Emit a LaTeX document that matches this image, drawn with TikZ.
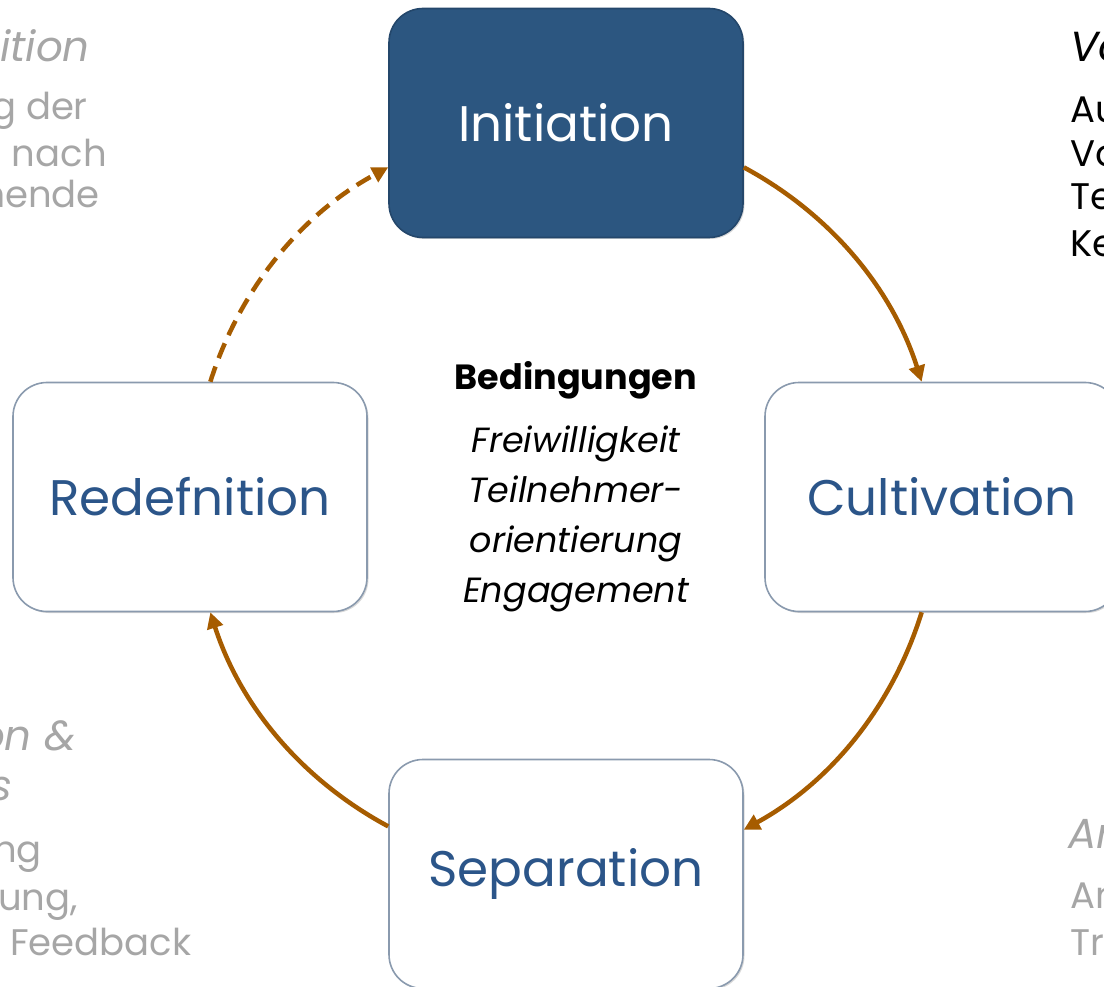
\documentclass[tikz,border=0pt]{standalone}
\usepackage{fontspec}
\setmainfont{Poppins}
\usetikzlibrary{arrows.meta,shadows}

\definecolor{phaseblue}{HTML}{2C5680}
\definecolor{phasedark}{HTML}{24476B}
\definecolor{phaseline}{HTML}{8A9AAE}
\definecolor{labelblue}{HTML}{2B5589}
\definecolor{arrowbrown}{HTML}{A65C00}
\definecolor{notegray}{HTML}{A6A6A6}

\begin{document}
\begin{tikzpicture}[x=1pt,y=-1pt,
	phase/.style={rectangle,rounded corners=34pt,minimum width=354pt,minimum height=229pt,inner sep=0pt,
		draw=phaseline,line width=1.6pt,fill=white,text=labelblue,font=\fontsize{50}{60}\selectfont,
		drop shadow={shadow xshift=1.5pt,shadow yshift=-1.5pt,opacity=0.3}},
	active/.style={fill=phaseblue,draw=phasedark,text=white},
	phasearrow/.style={draw=arrowbrown,line width=4.5pt,-{Triangle[length=16pt,width=16pt]},bend left=22,looseness=0.9},
	note/.style={inner sep=0pt,text=notegray,font=\fontsize{37}{45}\selectfont},
	notehead/.style={inner sep=0pt,text=notegray,font=\itshape\fontsize{42}{50}\selectfont}]
	\useasboundingbox (0,0) rectangle (1104,987);
	% phases
	\node[phase,active] (init) at (566,123) {Initiation};
	\node[phase] (cult) at (942,497) {Cultivation};
	\node[phase] (sep) at (566,874) {Separation};
	\node[phase] (redef) at (190,497) {Redefnition};
	% cycle
	\draw[phasearrow] (init.-14.5) to (cult.100);
	\draw[phasearrow] (cult.-100) to (sep.14.5);
	\draw[phasearrow] (sep.165.5) to (redef.-80);
	\draw[phasearrow,dash pattern=on 16pt off 9pt] (redef.80) to (init.194.5);
	% conditions
	\node[inner sep=0pt,anchor=base,font=\bfseries\fontsize{35}{40}\selectfont] (cond) at (576,389) {Bedingungen};
	\node[inner sep=0pt,anchor=north,align=center,font=\itshape\fontsize{35}{50}\selectfont] (condlist) at (576,426)
		{Freiwilligkeit\\Teilnehmer-\\orientierung\\Engagement};
	% side notes
	\node[notehead,anchor=base east] (defhead) at (90,62) {nition};
	\node[note,anchor=base east] (def1) at (88,120) {g der};
	\node[note,anchor=base east] (def2) at (107,167) {u nach};
	\node[note,anchor=base east] (def3) at (100,208) {mende};
	\node[notehead,text=black,anchor=base west] (prephead) at (1070,62) {Vo};
	\foreach \txt/\y [count=\i] in {Au/123,Vo/167,Te/210,Ke/257}
		\node[note,text=black,anchor=base west] (prep\i) at (1070,\y) {\txt};
	\node[notehead,anchor=base east] (evalhead) at (76,750) {on \&};
	\node[notehead,anchor=base east] (evalhead2) at (13,800) {s};
	\node[note,anchor=base east] (eval1) at (42,862) {ng};
	\node[note,anchor=base east] (eval2) at (78,910) {ung,};
	\node[note,anchor=base west] (eval3) at (10,955) {Feedback};
	\node[notehead,anchor=base west] (endhead) at (1068,848) {An};
	\node[note,anchor=base west] (end1) at (1070,908) {An};
	\node[note,anchor=base west] (end2) at (1070,955) {Tre};
\end{tikzpicture}
\end{document}
